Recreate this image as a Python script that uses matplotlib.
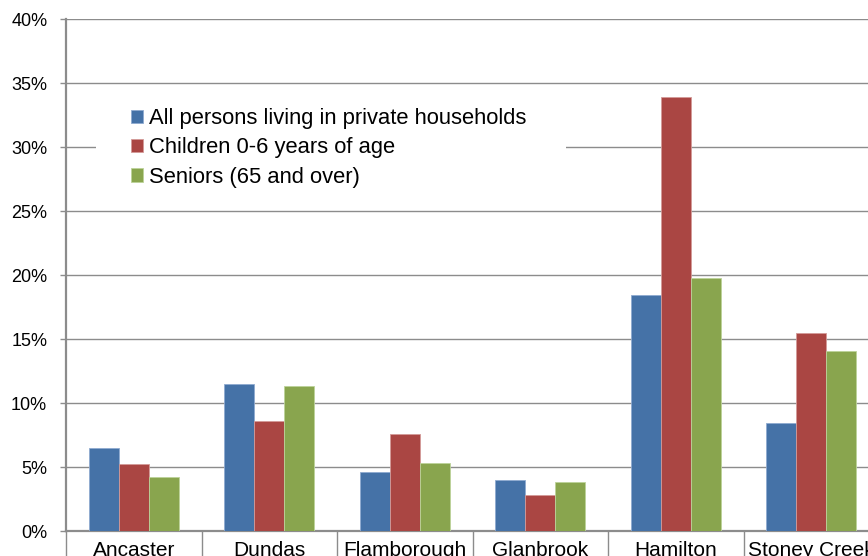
import numpy as np
import matplotlib
matplotlib.use("Agg")
import matplotlib.pyplot as plt
from matplotlib.patches import Rectangle
from matplotlib.ticker import FuncFormatter

plt.rcParams["font.family"] = ["Liberation Sans", "DejaVu Sans"]

categories = ["Ancaster", "Dundas", "Flamborough", "Glanbrook", "Hamilton", "Stoney Creek"]
series_names = ["All persons living in private households",
                "Children 0-6 years of age",
                "Seniors (65 and over)"]
all_persons = [6.5, 11.5, 4.6, 4.0, 18.4, 8.4]
children = [5.2, 8.6, 7.6, 2.8, 33.9, 15.5]
seniors = [4.2, 11.3, 5.3, 3.8, 19.8, 14.1]
colors = ["#4572A7", "#AA4643", "#89A54E"]
edges = ["#8FAAD0", "#D39A98", "#BCD39A"]

W, H = 868, 556
fig = plt.figure(figsize=(W / 100, H / 100), dpi=100)
# plot area runs past the right edge of the picture (cropped original)
ax = fig.add_axes([66 / W, 25 / H, (879 - 66) / W, (531 - 19) / H])

x = np.arange(len(categories))
bw = 1 / 4.5
for i, (vals, c, ec, name) in enumerate(zip([all_persons, children, seniors], colors, edges, series_names)):
    ax.bar(x + (i - 1) * bw, vals, width=bw, color=c, edgecolor=ec, linewidth=0.6, label=name, zorder=3)

ax.set_xlim(-0.5, len(categories) - 0.5)
ax.set_ylim(0, 40)
ax.set_yticks(np.arange(0, 41, 5))
ax.yaxis.set_major_formatter(FuncFormatter(lambda v, p: f"{v:.0f}%"))
ax.grid(axis="y", color="#8C8C8C", linewidth=1.0, zorder=0)
ax.set_axisbelow(True)

for s in ["top", "right"]:
    ax.spines[s].set_visible(False)
for s in ["left", "bottom"]:
    ax.spines[s].set_color("#8C8C8C")
    ax.spines[s].set_linewidth(1.6)

ax.tick_params(axis="y", length=4.5, width=1.0, color="#8C8C8C", pad=9, labelsize=13, labelcolor="#000000")
ax.set_xticks(x)
ax.set_xticklabels(categories)
ax.set_xticks(np.arange(-0.5, len(categories), 1.0), minor=True)
ax.tick_params(axis="x", which="major", length=0, pad=7, labelsize=15)
ax.tick_params(axis="x", which="minor", length=20, width=1.0, color="#8C8C8C", direction="out")

# white legend area covering the gridlines, wider than the entries
fig.patches.append(Rectangle((96 / W, 1 - 196 / H), (566 - 96) / W, 94 / H,
                             transform=fig.transFigure, facecolor="white", edgecolor="none", zorder=1))
leg = fig.legend(loc="upper left", bbox_to_anchor=(131 / W, 1 - 108 / H),
                 ncol=1, fontsize=15.8, frameon=False,
                 handlelength=0.55, handleheight=0.55, handletextpad=0.25, labelspacing=0.38,
                 borderpad=0, borderaxespad=0)

fig.savefig("out.png", dpi=100)
